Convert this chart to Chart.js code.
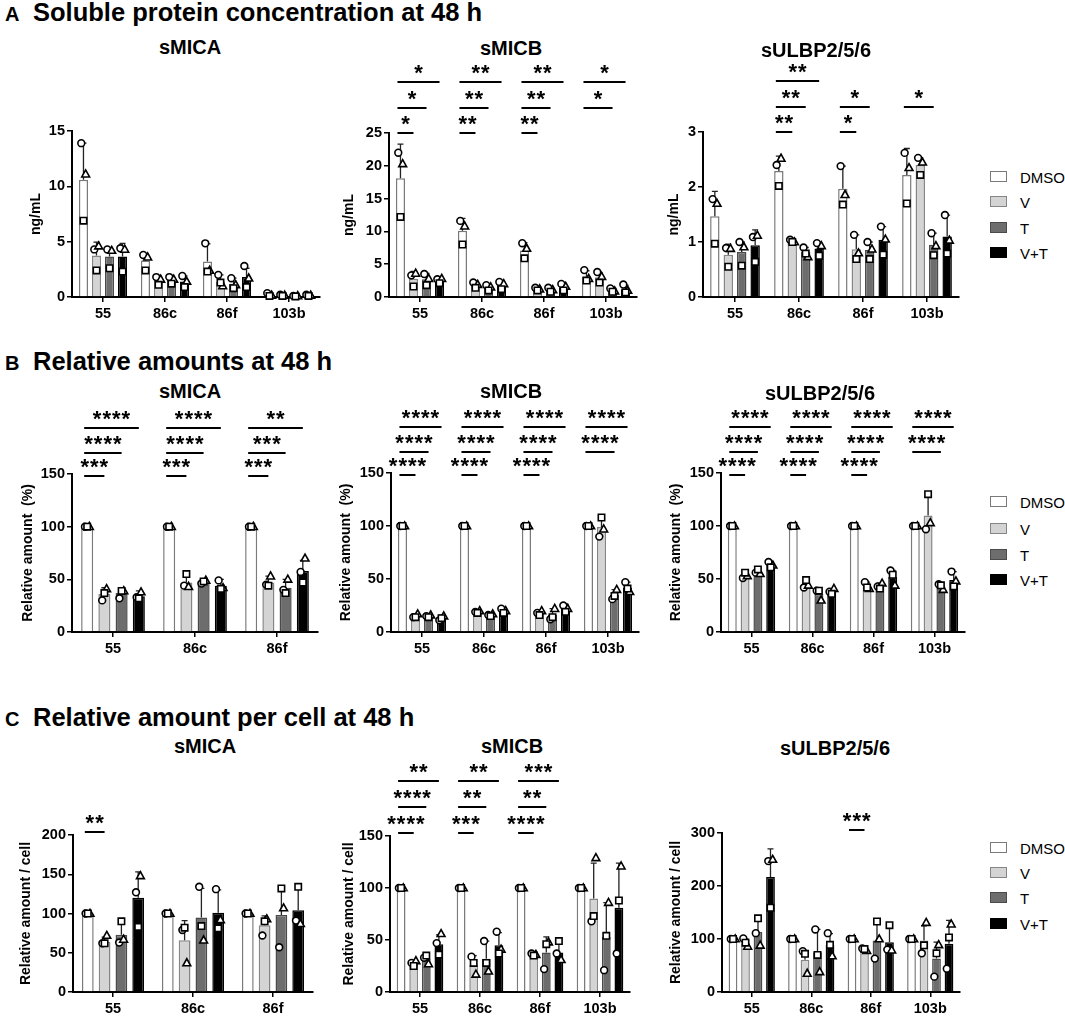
<!DOCTYPE html>
<html>
<head>
<meta charset="utf-8">
<script src="https://cdn.jsdelivr.net/npm/chart.js@4.4.1/dist/chart.umd.min.js"></script>
<style>
html, body { margin: 0; padding: 0; background: #fff; }
#page { position: relative; width: 1065px; height: 1016px; overflow: hidden; font-family: Arial, "Liberation Sans", sans-serif; color: #000; }
.box { position: absolute; }
.head { position: absolute; font-weight: bold; font-size: 25.5px; line-height: 25px; white-space: nowrap; }
.tag { position: absolute; font-weight: bold; font-size: 20px; line-height: 20px; }
.sub { position: absolute; width: 200px; text-align: center; font-weight: bold; font-size: 20px; line-height: 19px; }
.leg { position: absolute; font-size: 15px; line-height: 15px; white-space: nowrap; }
.leg .sw { position: absolute; left: 0; top: 1px; width: 15px; height: 9px; border: 1.5px solid #666; }
.leg .tx { position: absolute; left: 30px; top: 0; }
</style>
</head>
<body>
<div id="page">
  <div class="tag" style="left:5px;top:4px">A</div>
  <div class="head" style="left:33px;top:0px">Soluble protein concentration at 48 h</div>
  <div class="tag" style="left:5px;top:353px">B</div>
  <div class="head" style="left:33px;top:349px">Relative amounts at 48 h</div>
  <div class="tag" style="left:5px;top:709px">C</div>
  <div class="head" style="left:33px;top:705px">Relative amount per cell at 48 h</div>
</div>
<script>
Chart.defaults.font.family = 'Arial, "Liberation Sans", sans-serif';
Chart.defaults.color = '#000';

// treatment groups & styling
const groups = ['DMSO', 'V', 'T', 'V+T'];
const fills = ['#ffffff', '#d4d4d4', '#6d6d6d', '#000000'];
const edges = ['#7a7a7a', '#858585', '#4a4a4a', '#000000'];
const shapes = ['circle', 'triangle', 'square'];
const jitter = [-2.2, 2.2, 0];

const lines4 = ['55', '86c', '86f', '103b'];
const lines3 = ['55', '86c', '86f'];

// ---- A: soluble protein concentration (ng/mL) ----
// rows = groups, columns = cell lines
const aMicaMean  = [[10.6, 3.3, 3.2, 0.2], [3.75, 1.5, 1.4, 0.15], [3.65, 1.55, 1.2, 0.08], [3.65, 1.4, 1.8, 0.15]];
const aMicaUpper = [[13.9, 3.75, 4.8, 0.35], [4.95, 1.9, 2.0, 0.25], [4.3, 1.85, 1.7, 0.15], [4.85, 1.9, 2.6, 0.2]];
const aMicaPts = [
  [[13.9, 11.1, 6.9], [3.8, 3.6, 2.4], [4.85, 2.4, 2.3], [0.35, 0.15, 0.1]],
  [[4.3, 4.6, 2.4], [1.8, 1.6, 1.1], [2.0, 1.0, 1.3], [0.2, 0.15, 0.1]],
  [[4.3, 4.2, 2.6], [1.8, 1.6, 1.2], [1.7, 1.1, 0.8], [0.1, 0.1, 0.05]],
  [[4.4, 4.3, 2.3], [1.9, 1.4, 0.9], [2.8, 1.7, 0.9], [0.2, 0.15, 0.1]]
];
const aMicaSig = [['', '', ''], ['', '', ''], ['', '', ''], ['', '', '']];

const aMicbMean  = [[18.1, 10.1, 7.1, 3.1], [2.8, 1.8, 1.2, 3.0], [2.7, 1.4, 1.1, 1.0], [2.5, 1.8, 1.5, 1.2]];
const aMicbUpper = [[23.3, 12.0, 8.3, 4.0], [3.9, 2.3, 1.5, 3.7], [3.6, 1.8, 1.5, 1.3], [2.9, 2.4, 2.1, 1.8]];
const aMicbPts = [
  [[22.0, 20.3, 12.2], [11.6, 10.8, 8.0], [8.2, 7.4, 5.9], [4.1, 2.8, 2.5]],
  [[3.3, 3.6, 1.6], [2.2, 1.9, 1.4], [1.4, 1.2, 1.0], [3.8, 3.1, 2.2]],
  [[3.5, 2.8, 1.8], [1.8, 1.5, 1.0], [1.4, 1.1, 0.8], [1.3, 0.9, 0.8]],
  [[2.7, 2.8, 2.1], [2.3, 2.0, 1.2], [2.0, 1.6, 1.0], [1.9, 1.0, 0.7]]
];
const aMicbSig = [['*', '*', '*'], ['**', '**', '**'], ['**', '**', '**'], ['', '*', '*']];

const aUlbpMean  = [[1.47, 2.29, 1.97, 2.22], [0.77, 1.01, 0.87, 2.40], [0.82, 0.82, 0.86, 0.95], [0.94, 0.88, 1.04, 1.10]];
const aUlbpUpper = [[1.92, 2.56, 2.38, 2.70], [0.96, 1.05, 1.13, 2.53], [1.0, 0.9, 1.0, 1.16], [1.22, 0.98, 1.28, 1.49]];
const aUlbpPts = [
  [[1.78, 1.70, 0.97], [2.40, 2.52, 2.02], [2.38, 1.86, 1.68], [2.62, 2.35, 1.70]],
  [[0.89, 0.88, 0.55], [1.04, 1.0, 1.0], [1.13, 0.8, 0.69], [2.53, 2.45, 2.22]],
  [[1.0, 0.91, 0.57], [0.9, 0.73, 0.79], [1.0, 0.87, 0.69], [1.16, 0.93, 0.76]],
  [[1.09, 1.12, 0.64], [0.98, 0.93, 0.75], [1.28, 1.05, 0.77], [1.49, 1.03, 0.79]]
];
const aUlbpSig = [['', '', ''], ['**', '**', '**'], ['*', '*', ''], ['', '*', '']];

// ---- B: relative amounts (%) ----
const bMicaMean  = [[100, 100, 100], [36, 47, 47], [37, 48, 42], [34, 44, 58]];
const bMicaUpper = [[100, 100, 100], [42, 55, 53], [40, 50, 50], [39, 50, 68]];
const bMicaPts = [
  [[100, 100, 100], [100, 100, 100], [100, 100, 100]],
  [[30, 41, 37], [44, 43, 55], [45, 53, 44]],
  [[32, 39, 39], [46, 49, 48], [40, 50, 37]],
  [[33, 38, 32], [49, 42, 41], [57, 70, 47]]
];
const bMicaSig = [['***', '****', '****'], ['***', '****', '****'], ['***', '***', '**']];

const bMicbMean  = [[100, 100, 100, 100], [15, 19, 18, 99], [15, 16, 16, 35], [13, 20, 22, 42]];
const bMicbUpper = [[100, 100, 100, 100], [17, 20, 20, 107], [16, 17, 22, 40], [16, 23, 26, 47]];
const bMicbPts = [
  [[100, 100, 100], [100, 100, 100], [100, 100, 100], [100, 100, 100]],
  [[14, 17, 14], [19, 20, 18], [18, 20, 16], [90, 97, 108]],
  [[15, 16, 14], [16, 17, 15], [12, 22, 14], [31, 40, 34]],
  [[11, 15, 13], [22, 20, 18], [25, 22, 19], [47, 38, 41]]
];
const bMicbSig = [['****', '****', '****'], ['****', '****', '****'], ['****', '****', '****'], ['', '****', '****']];

const bUlbpMean  = [[100, 100, 100, 100], [53, 45, 43, 110], [57, 36, 43, 43], [63, 38, 52, 49]];
const bUlbpUpper = [[100, 100, 100, 100], [57, 49, 47, 130], [59, 40, 46, 45], [66, 41, 58, 57]];
const bUlbpPts = [
  [[100, 100, 100], [100, 100, 100], [100, 100, 100], [100, 100, 100]],
  [[51, 53, 56], [42, 44, 49], [47, 41, 42], [97, 103, 130]],
  [[56, 55, 59], [39, 30, 39], [43, 46, 41], [45, 40, 44]],
  [[66, 63, 61], [38, 41, 36], [58, 44, 54], [57, 48, 43]]
];
const bUlbpSig = [['****', '****', '****'], ['****', '****', '****'], ['****', '****', '****'], ['', '****', '****']];

// ---- C: relative amount per cell ----
const cMicaMean  = [[100, 100, 100], [64, 66, 85], [73, 95, 98], [120, 101, 104]];
const cMicaUpper = [[100, 100, 100], [70, 91, 97], [88, 132, 130], [153, 130, 133]];
const cMicaPts = [
  [[100, 100, 100], [100, 100, 100], [100, 100, 100]],
  [[62, 72, 62], [79, 37, 82], [72, 93, 90]],
  [[63, 67, 90], [134, 66, 84], [57, 107, 132]],
  [[127, 148, 83], [131, 92, 81], [91, 87, 134]]
];
const cMicaSig = [['**', '', ''], ['', '', ''], ['', '', '']];

const cMicbMean  = [[100, 100, 100, 100], [28, 26, 36, 90], [32, 32, 38, 53], [46, 45, 38, 81]];
const cMicbUpper = [[100, 100, 100, 100], [30, 35, 37, 124], [36, 49, 53, 86], [55, 57, 47, 124]];
const cMicbPts = [
  [[100, 100, 100], [100, 100, 100], [100, 100, 100], [100, 100, 100]],
  [[28, 30, 25], [34, 17, 28], [37, 36, 35], [68, 129, 73]],
  [[33, 27, 35], [49, 20, 28], [22, 48, 46], [21, 86, 54]],
  [[47, 56, 36], [58, 41, 37], [37, 31, 49], [37, 121, 88]]
];
const cMicbSig = [['****', '****', '**'], ['***', '**', '**'], ['****', '**', '***'], ['', '', '']];

const cUlbpMean  = [[100, 100, 100, 100], [92, 61, 80, 97], [113, 75, 97, 63], [217, 89, 94, 91]];
const cUlbpUpper = [[100, 100, 100, 100], [100, 78, 84, 125], [136, 118, 130, 94], [270, 110, 125, 135]];
const cUlbpPts = [
  [[100, 100, 100], [100, 100, 100], [100, 100, 100], [100, 100, 100]],
  [[101, 86, 93], [77, 35, 72], [82, 78, 81], [73, 131, 88]],
  [[111, 88, 139], [118, 38, 70], [63, 100, 133], [29, 89, 73]],
  [[247, 250, 159], [111, 68, 89], [80, 79, 126], [44, 128, 103]]
];
const cUlbpSig = [['', '', ''], ['', '', ''], ['***', '', ''], ['', '', '']];

// ---- layout ----
const PT = 72, XH = 30, PR = 4;
const rowsA = [0, -25, -51], rowsB = [2, -21, -46], rowsC = [-3, -29, -55];

const panels = [
  { sub: 'sMICA', subX: 190, subY: 38, left: 72, right: 320, top: 131, bottom: 297, yw: 44, max: 15, step: 5, title: 'ng/mL', labels: lines4, mean: aMicaMean, upper: aMicaUpper, pts: aMicaPts, sig: aMicaSig, rows: rowsA },
  { sub: 'sMICB', subX: 511, subY: 39, left: 389, right: 637, top: 133, bottom: 297, yw: 48, max: 25, step: 5, title: 'ng/mL', labels: lines4, mean: aMicbMean, upper: aMicbUpper, pts: aMicbPts, sig: aMicbSig, rows: rowsA },
  { sub: 'sULBP2/5/6', subX: 816, subY: 41, left: 703, right: 959, top: 132, bottom: 297, yw: 37, max: 3, step: 1, title: 'ng/mL', labels: lines4, mean: aUlbpMean, upper: aUlbpUpper, pts: aUlbpPts, sig: aUlbpSig, rows: rowsA },

  { sub: 'sMICA', subX: 190, subY: 382, left: 72, right: 318, top: 474, bottom: 632, yw: 52, max: 150, step: 50, title: 'Relative amount  (%)', labels: lines3, mean: bMicaMean, upper: bMicaUpper, pts: bMicaPts, sig: bMicaSig, rows: rowsB },
  { sub: 'sMICB', subX: 511, subY: 382, left: 391, right: 639, top: 473, bottom: 632, yw: 53, max: 150, step: 50, title: 'Relative amount  (%)', labels: lines4, mean: bMicbMean, upper: bMicbUpper, pts: bMicbPts, sig: bMicbSig, rows: rowsB },
  { sub: 'sULBP2/5/6', subX: 820, subY: 384, left: 721, right: 965, top: 473, bottom: 632, yw: 53, max: 150, step: 50, title: 'Relative amount  (%)', labels: lines4, mean: bUlbpMean, upper: bUlbpUpper, pts: bUlbpPts, sig: bUlbpSig, rows: rowsB },

  { sub: 'sMICA', subX: 205, subY: 737, left: 73, right: 313, top: 835, bottom: 992, yw: 55, max: 200, step: 50, title: 'Relative amount / cell', labels: lines3, mean: cMicaMean, upper: cMicaUpper, pts: cMicaPts, sig: cMicaSig, rows: rowsC },
  { sub: 'sMICB', subX: 512, subY: 737, left: 390, right: 630, top: 836, bottom: 992, yw: 49, max: 150, step: 50, title: 'Relative amount / cell', labels: lines4, mean: cMicbMean, upper: cMicbUpper, pts: cMicbPts, sig: cMicbSig, rows: rowsC },
  { sub: 'sULBP2/5/6', subX: 835, subY: 739, left: 722, right: 960, top: 833, bottom: 992, yw: 54, max: 300, step: 100, title: 'Relative amount / cell', labels: lines4, mean: cUlbpMean, upper: cUlbpUpper, pts: cUlbpPts, sig: cUlbpSig, rows: rowsC }
];

const legendRows = [[177, 202, 228, 253], [502, 529, 555, 580], [848, 873, 898, 924]];

const page = document.getElementById('page');

function marker(ctx, shape, x, y) {
  ctx.beginPath();
  if (shape === 'circle') {
    ctx.arc(x, y, 3.4, 0, Math.PI * 2);
  } else if (shape === 'triangle') {
    ctx.moveTo(x, y - 4.2);
    ctx.lineTo(x + 3.9, y + 2.8);
    ctx.lineTo(x - 3.9, y + 2.8);
    ctx.closePath();
  } else {
    ctx.rect(x - 3.2, y - 3.2, 6.4, 6.4);
  }
  ctx.fillStyle = '#fff';
  ctx.fill();
  ctx.lineWidth = 1.6;
  ctx.strokeStyle = '#000';
  ctx.stroke();
}

// error bars, replicate markers and significance brackets
function extras(p) {
  return {
    id: 'extras',
    afterDatasetsDraw(chart) {
      const ctx = chart.ctx, ys = chart.scales.y, area = chart.chartArea;
      ctx.save();
      ctx.strokeStyle = '#222';
      ctx.lineWidth = 1.3;
      p.upper.forEach((row, gi) => {
        const meta = chart.getDatasetMeta(gi);
        row.forEach((v, ci) => {
          const bar = meta.data[ci];
          const yt = ys.getPixelForValue(v);
          if (bar.y - yt < 1) return;
          ctx.beginPath();
          ctx.moveTo(bar.x, bar.y);
          ctx.lineTo(bar.x, yt);
          ctx.moveTo(bar.x - 3, yt);
          ctx.lineTo(bar.x + 3, yt);
          ctx.stroke();
        });
      });
      p.pts.forEach((row, gi) => {
        const meta = chart.getDatasetMeta(gi);
        row.forEach((reps, ci) => {
          reps.forEach((v, k) => marker(ctx, shapes[k], meta.data[ci].x + jitter[k], ys.getPixelForValue(v)));
        });
      });
      ctx.fillStyle = '#000';
      ctx.strokeStyle = '#000';
      ctx.lineWidth = 2;
      ctx.font = 'bold 22px Arial, "Liberation Sans", sans-serif';
      ctx.textAlign = 'center';
      ctx.textBaseline = 'alphabetic';
      p.sig.forEach((labs, ci) => labs.forEach((lab, r) => {
        if (!lab) return;
        const x1 = chart.getDatasetMeta(0).data[ci].x;
        const x2 = chart.getDatasetMeta(r + 1).data[ci].x;
        const ly = area.top + p.rows[r];
        ctx.beginPath();
        ctx.moveTo(x1 - 3, ly);
        ctx.lineTo(x2, ly);
        ctx.stroke();
        // stars drawn one by one, spaced like the original
        const n = lab.length, gap = 9.6;
        const cx = (x1 - 3 + x2) / 2;
        for (let s = 0; s < n; s++) {
          ctx.fillText('*', cx + (s - (n - 1) / 2) * gap, ly - 2);
        }
      }));
      ctx.restore();
    }
  };
}

function makeChart(p) {
  const divLeft = p.left - p.yw, divTop = p.top - PT;
  const div = document.createElement('div');
  div.className = 'box';
  div.style.left = divLeft + 'px';
  div.style.top = divTop + 'px';
  div.style.width = (p.right - divLeft + PR) + 'px';
  div.style.height = (p.bottom - divTop + XH) + 'px';
  const cv = document.createElement('canvas');
  div.appendChild(cv);
  page.appendChild(div);

  const sub = document.createElement('div');
  sub.className = 'sub';
  sub.style.left = (p.subX - 100) + 'px';
  sub.style.top = p.subY + 'px';
  sub.textContent = p.sub;
  page.appendChild(sub);

  new Chart(cv, {
    type: 'bar',
    data: {
      labels: p.labels,
      datasets: groups.map((g, gi) => ({
        label: g,
        data: p.mean[gi],
        backgroundColor: fills[gi],
        borderColor: edges[gi],
        borderWidth: 1.5,
        categoryPercentage: 0.84,
        barPercentage: 0.7,
      }))
    },
    options: {
      responsive: true,
      maintainAspectRatio: false,
      animation: false,
      layout: { padding: { top: PT, right: PR, left: 0, bottom: 0 } },
      plugins: { legend: { display: false }, tooltip: { enabled: false } },
      scales: {
        x: {
          grid: { offset: false, drawOnChartArea: false, tickLength: 5, color: '#000', lineWidth: 1.5 },
          border: { color: '#000', width: 2 },
          ticks: { color: '#000', font: { size: 14.5, weight: 'bold' }, padding: 3, maxRotation: 0 },
          afterFit: s => { s.height = XH; }
        },
        y: {
          min: 0,
          max: p.max,
          ticks: { stepSize: p.step, color: '#000', font: { size: 14.5, weight: 'bold' }, padding: 2 },
          grid: { drawOnChartArea: false, tickLength: 5, color: '#000', lineWidth: 1.5 },
          border: { color: '#000', width: 2 },
          title: { display: true, text: p.title, color: '#000', font: { size: 14, weight: 'bold' }, padding: 0 },
          afterFit: s => { s.width = p.yw; }
        }
      }
    },
    plugins: [extras(p)]
  });
}

panels.forEach(makeChart);

// legends (one per row of panels)
legendRows.forEach(ys => {
  groups.forEach((g, gi) => {
    const item = document.createElement('div');
    item.className = 'leg';
    item.style.left = '990px';
    item.style.top = (ys[gi] - 7) + 'px';
    item.innerHTML = '<span class="sw" style="background:' + fills[gi] + ';border-color:' + (gi === 3 ? '#000' : edges[gi]) + '"></span><span class="tx">' + g + '</span>';
    page.appendChild(item);
  });
});
</script>
</body>
</html>
